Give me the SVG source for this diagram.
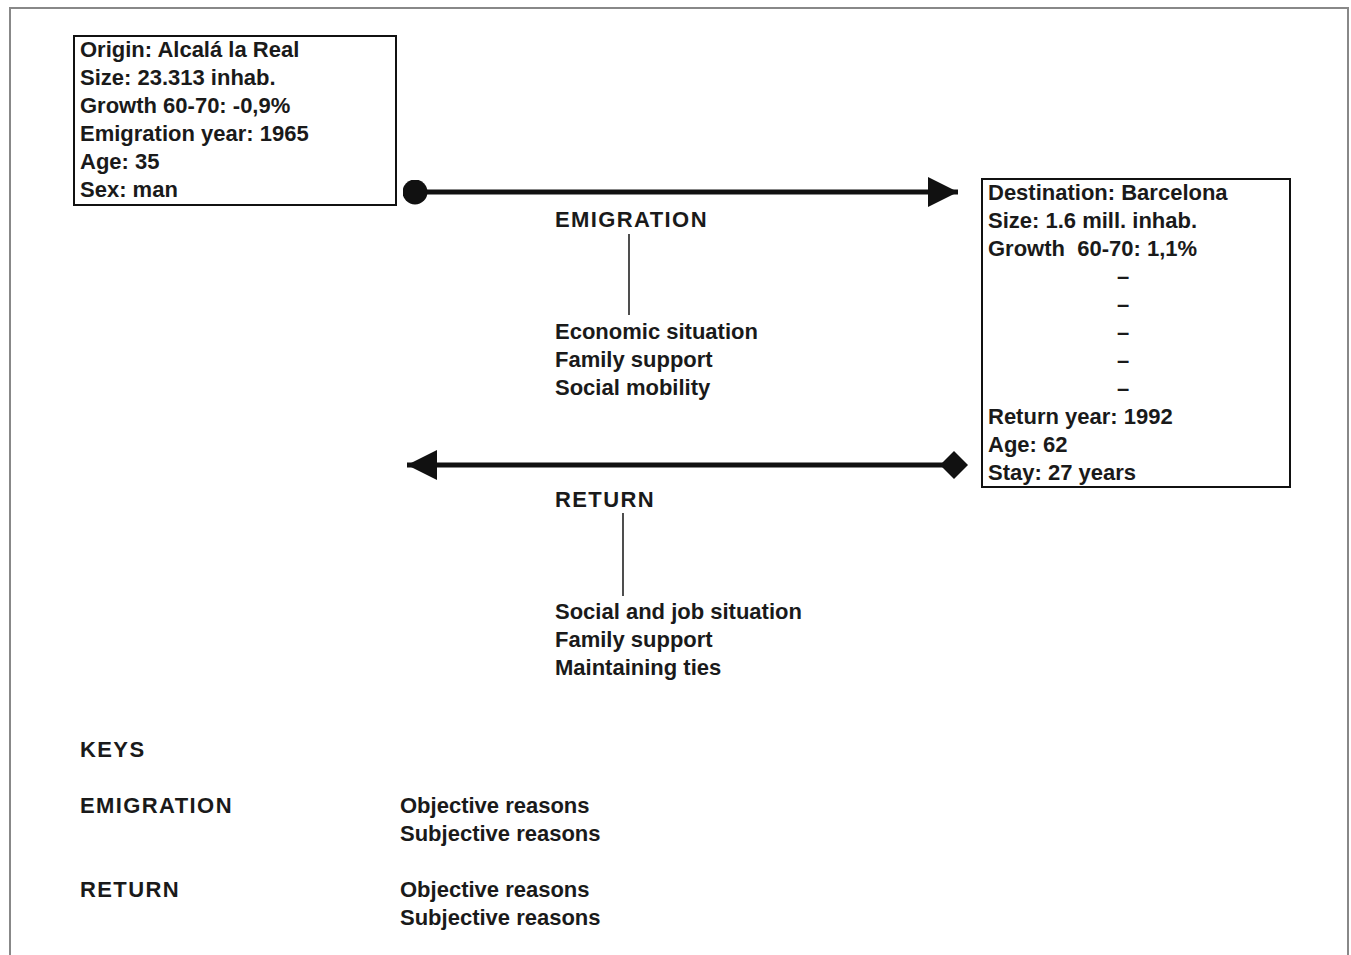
<svg xmlns="http://www.w3.org/2000/svg" width="1351" height="955" viewBox="0 0 1351 955">
  <style>
    text { font-family: "Liberation Sans", Arial, sans-serif; font-size: 22px; font-weight: bold; fill: #1a1a1a; }
    .caps { letter-spacing: 1.4px; }
    .box { fill: #fff; stroke: #111; stroke-width: 2; }
    .flow { stroke: #111; stroke-width: 5; fill: none; }
    .stem { stroke: #222; stroke-width: 1.6; }
    .frame { fill: none; stroke: #888; stroke-width: 2; }
    .dash { text-anchor: middle; }
  </style>
  <defs>
    <marker id="dot" viewBox="0 0 10 10" refX="5" refY="5" markerWidth="5" markerHeight="5" markerUnits="strokeWidth" orient="auto">
      <circle cx="5" cy="5" r="5" fill="#111"/>
    </marker>
    <marker id="head" viewBox="0 0 10 10" refX="10" refY="5" markerWidth="6" markerHeight="6" markerUnits="strokeWidth" orient="auto-start-reverse">
      <path d="M0,0 L10,5 L0,10 Z" fill="#111"/>
    </marker>
    <marker id="diamond" viewBox="0 0 10 10" refX="5" refY="5" markerWidth="5.6" markerHeight="5.6" markerUnits="strokeWidth" orient="auto">
      <path d="M0,5 L5,0 L10,5 L5,10 Z" fill="#111"/>
    </marker>
  </defs>

  <rect width="1351" height="955" fill="#fff"/>
  <path class="frame" d="M10,958 L10,8 L1348,8 L1348,958"/>

  <g id="origin">
    <rect class="box" x="74" y="36" width="322" height="169"/>
    <text x="80" y="57">Origin: Alcalá la Real</text>
    <text x="80" y="85">Size: 23.313 inhab.</text>
    <text x="80" y="113">Growth 60-70: -0,9%</text>
    <text x="80" y="141">Emigration year: 1965</text>
    <text x="80" y="169">Age: 35</text>
    <text x="80" y="197">Sex: man</text>
  </g>

  <g id="destination">
    <rect class="box" x="982" y="179" width="308" height="308"/>
    <text x="988" y="200">Destination: Barcelona</text>
    <text x="988" y="228">Size: 1.6 mill. inhab.</text>
    <text x="988" y="256" xml:space="preserve">Growth  60-70: 1,1%</text>
    <text class="dash" x="1123" y="284">–</text>
    <text class="dash" x="1123" y="312">–</text>
    <text class="dash" x="1123" y="340">–</text>
    <text class="dash" x="1123" y="368">–</text>
    <text class="dash" x="1123" y="396">–</text>
    <text x="988" y="424">Return year: 1992</text>
    <text x="988" y="452">Age: 62</text>
    <text x="988" y="480">Stay: 27 years</text>
  </g>

  <g id="emigration-reasons">
    <text class="caps" x="555" y="227">EMIGRATION</text>
    <text x="555" y="339">Economic situation</text>
    <text x="555" y="367">Family support</text>
    <text x="555" y="395">Social mobility</text>
  </g>

  <g id="return-reasons">
    <text class="caps" x="555" y="507">RETURN</text>
    <text x="555" y="619">Social and job situation</text>
    <text x="555" y="647">Family support</text>
    <text x="555" y="675">Maintaining ties</text>
  </g>

  <g id="keys">
    <text class="caps" x="80" y="757">KEYS</text>
    <text class="caps" x="80" y="813">EMIGRATION</text>
    <text x="400" y="813">Objective reasons</text>
    <text x="400" y="841">Subjective reasons</text>
    <text class="caps" x="80" y="897">RETURN</text>
    <text x="400" y="897">Objective reasons</text>
    <text x="400" y="925">Subjective reasons</text>
  </g>

  <g id="connectors">
    <line class="flow" x1="415" y1="192" x2="958" y2="192" marker-start="url(#dot)" marker-end="url(#head)"/>
    <line class="flow" x1="954" y1="465" x2="407" y2="465" marker-start="url(#diamond)" marker-end="url(#head)"/>
    <line class="stem" x1="629" y1="234" x2="629" y2="315"/>
    <line class="stem" x1="623" y1="513" x2="623" y2="596"/>
  </g>
</svg>
